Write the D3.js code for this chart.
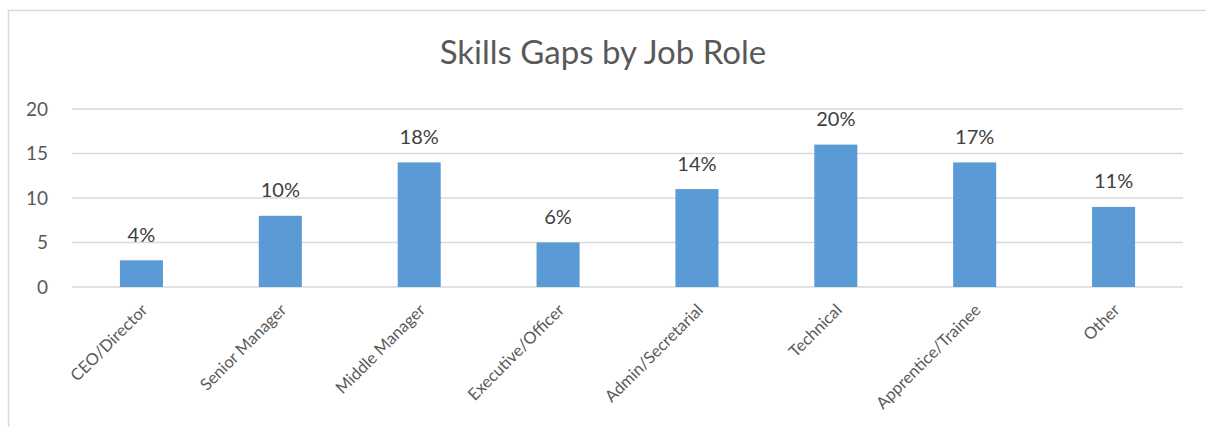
<!DOCTYPE html>
<html>
<head>
<meta charset="utf-8">
<script src="https://cdn.jsdelivr.net/npm/d3@7"></script>
<style>
  body { margin: 0; background: #fff; }
  text { font-family: Lato, "Open Sans", sans-serif; }
</style>
</head>
<body>
<svg></svg>
<script>
// chart data
var roles = ["CEO/Director", "Senior Manager", "Middle Manager", "Executive/Officer",
    "Admin/Secretarial", "Technical", "Apprentice/Trainee", "Other"];
var gapCounts = [3, 8, 14, 5, 11, 16, 14, 9];
var gapPercents = ["4%", "10%", "18%", "6%", "14%", "20%", "17%", "11%"];
var yTicks = [0, 5, 10, 15, 20];

var svgWidth = 1206;
var svgHeight = 427;
var svg = d3.select('svg')
    .attr("width", svgWidth)
    .attr("height", svgHeight);

// chart frame (cut by the picture on right and bottom)
svg.append("path")
    .attr("d", "M8.5," + svgHeight + "V10.5H" + svgWidth)
    .attr("fill", "none")
    .attr("stroke", "#d9d9d9")
    .attr("stroke-width", 1.5);

svg.append("text")
    .text("Skills Gaps by Job Role")
    .attr("x", 603)
    .attr("y", 64)
    .attr("text-anchor", "middle")
    .attr("font-size", 33)
    .attr("fill", "#595959");

var plotLeft = 72, plotRight = 1183;
var x = d3.scaleBand()
    .domain(roles)
    .range([plotLeft, plotRight])
    .paddingInner(0.69)
    .paddingOuter(0.345);

var y = d3.scaleLinear()
    .domain([0, 20])
    .range([287, 109]);

// gridlines
svg.selectAll("line.grid").data(yTicks).enter()
    .append("line")
    .attr("class", "grid")
    .attr("x1", plotLeft)
    .attr("x2", plotRight)
    .attr("y1", function (d) { return y(d); })
    .attr("y2", function (d) { return y(d); })
    .attr("stroke", "#d9d9d9")
    .attr("stroke-width", 1.5);

// y tick labels
svg.selectAll("text.ytick").data(yTicks).enter()
    .append("text")
    .attr("class", "ytick")
    .text(function (d) { return d; })
    .attr("x", 48)
    .attr("y", function (d) { return y(d); })
    .attr("dy", "0.36em")
    .attr("text-anchor", "end")
    .attr("font-size", 19)
    .attr("fill", "#595959");

// bars
svg.selectAll("rect.bar").data(gapCounts).enter()
    .append("rect")
    .attr("class", "bar")
    .attr("x", function (d, i) { return x(roles[i]); })
    .attr("width", x.bandwidth())
    .attr("y", function (d) { return y(d); })
    .attr("height", function (d) { return y(0) - y(d); })
    .attr("fill", "#5b9bd5");

// data labels
svg.selectAll("text.post").data(gapPercents).enter()
    .append("text")
    .attr("class", "post")
    .text(function (d) { return d; })
    .attr("x", function (d, i) { return x(roles[i]) + x.bandwidth() / 2; })
    .attr("y", function (d, i) { return y(gapCounts[i]) - 18.5; })
    .attr("text-anchor", "middle")
    .attr("font-size", 20)
    .attr("fill", "#404040");

// category labels, rotated
svg.selectAll("text.cat").data(roles).enter()
    .append("text")
    .attr("class", "cat")
    .text(function (d) { return d; })
    .attr("transform", function (d) {
        var cx = x(d) + x.bandwidth() / 2;
        return "translate(" + (cx + 3) + ",307) rotate(-45)";
    })
    .attr("dy", "0.35em")
    .attr("text-anchor", "end")
    .attr("font-size", 16.5)
    .attr("fill", "#595959");
</script>
</body>
</html>
